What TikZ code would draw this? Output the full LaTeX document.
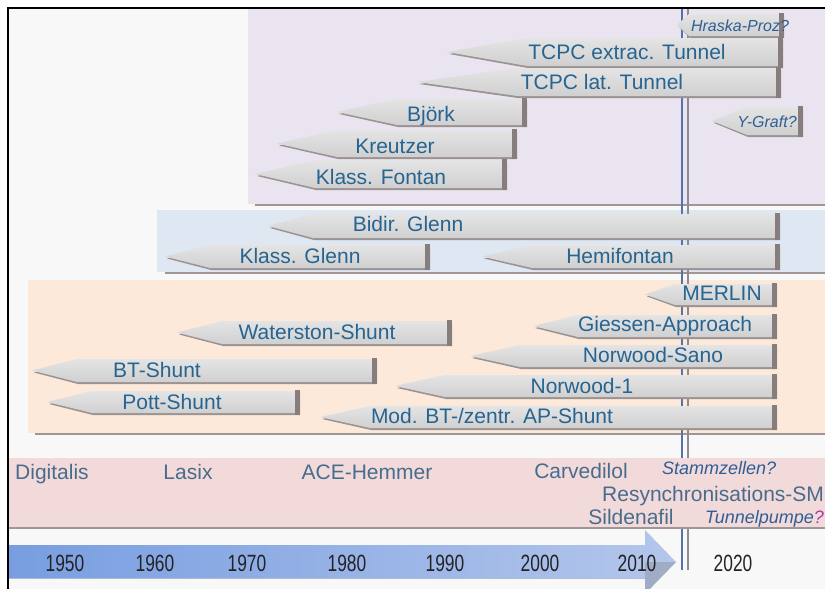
\documentclass[tikz,border=0pt]{standalone}
\usepackage{fontspec}
\setmainfont{Liberation Sans}
\newfontfamily\yearfont[FakeStretch=0.74]{Liberation Sans}
\usetikzlibrary{calc}
\definecolor{bgc}{RGB}{248,248,248}
\definecolor{purp}{RGB}{233,228,240}
\definecolor{bluep}{RGB}{222,231,242}
\definecolor{orap}{RGB}{253,233,218}
\definecolor{pinkp}{RGB}{242,218,218}
\definecolor{panline}{RGB}{160,150,150}
\definecolor{bartop}{RGB}{228,228,228}
\definecolor{barbot}{RGB}{208,208,208}
\definecolor{barshadow}{RGB}{155,146,146}
\definecolor{baredge}{RGB}{135,125,125}
\definecolor{bartxt}{RGB}{38,100,145}
\definecolor{drugtxt}{RGB}{72,108,140}
\definecolor{itxt}{RGB}{45,95,150}
\definecolor{yeartxt}{RGB}{35,35,35}
\definecolor{vlineA}{RGB}{85,115,170}
\definecolor{vlineB}{RGB}{140,140,150}
\definecolor{tlA}{RGB}{120,158,225}
\definecolor{tlB}{RGB}{180,198,235}
\definecolor{qmark}{RGB}{170,60,160}
\tikzset{
  bartext/.style={font=\fontsize{21}{24}\selectfont, text=bartxt, inner sep=0pt, text height=15pt, text depth=0pt},
  smalltext/.style={font=\fontsize{16}{19}\selectfont\itshape, text=itxt, inner sep=0pt, text height=12pt, text depth=0pt},
  drugtext/.style={font=\fontsize{21}{24}\selectfont, text=drugtxt, inner sep=0pt, text height=15pt, text depth=0pt},
  drugital/.style={font=\fontsize{18}{21}\selectfont\itshape, text=itxt, inner sep=0pt, text height=13pt, text depth=0pt},
  yeartext/.style={font=\fontsize{23.5}{26}\selectfont\yearfont, text=yeartxt, inner sep=0pt, text height=17pt, text depth=0pt},
  panelline/.style={draw=panline, line width=2pt},
}
% #1 name, #2 tip x, #3 taper, #4 right x, #5 top y, #6 bottom y, #7 text x, #8 text y, #9 text
\newcommand\tlbar[9]{%
  \fill[barshadow] ({#2+2},{(#5+#6)/2+2}) -- ({#2+#3+1},{#6+2}) -- (#4,{#6+2}) -- (#4,{#5+2}) -- ({#2+#3+1},{#5+2}) -- cycle;
  \shade[top color=bartop, bottom color=barbot] (#2,{(#5+#6)/2}) -- ({#2+#3},#5) -- ({#4-4},#5) -- ({#4-4},#6) -- ({#2+#3},#6) -- cycle;
  \fill[baredge] ({#4-5},{#5-1}) rectangle (#4,{#6+2});
  \node[bartext] (#1) at (#7,#8) {#9};
}
\begin{document}
\begin{tikzpicture}[x=1pt,y=-1pt]
\useasboundingbox (0,0) rectangle (825,589);
\clip (0,0) rectangle (825,589);
\fill[white] (0,0) rectangle (825,589);
\fill[bgc] (8,8) rectangle (825,589);
% panels
\fill[purp] (248,9) rectangle (825,204);
\draw[panelline] (255,205) -- (825,205);
\fill[bluep] (157,210) rectangle (825,272);
\draw[panelline] (165,273) -- (825,273);
\fill[orap] (28,280) rectangle (825,433);
\draw[panelline] (35,434) -- (825,434);
% reference line 2015
\draw[vlineA, line width=1.6pt] (682,9) -- (682,570);
\draw[vlineB, line width=1.6pt] (688,9) -- (688,570);
% purple bars
\tlbar{hraska}{677}{12}{784}{14}{36}{740}{25}{}
\node[smalltext] (hraskat) at (740,25) {Hraska-Proz?};
\tlbar{tcpcx}{447}{80}{783}{38}{66}{627}{52}{TCPC extrac. Tunnel}
\tlbar{tcpcl}{417}{100}{781}{68}{96}{602}{82}{TCPC lat. Tunnel}
\tlbar{ygraft}{712}{35}{803}{107}{135}{767}{121}{}
\node[smalltext] (ygraftt) at (767,121) {Y-Graft?};
\tlbar{bjork}{337}{60}{527}{99}{125}{431}{114}{Björk}
\tlbar{kreutzer}{277}{60}{517}{130}{157}{395}{146}{Kreutzer}
\tlbar{kfontan}{255}{60}{507}{160}{188}{381}{177}{Klass. Fontan}
% blue bars
\tlbar{bglenn}{268}{45}{780}{214}{238}{408}{224}{Bidir. Glenn}
\tlbar{kglenn}{165}{45}{430}{245}{268}{300}{256}{Klass. Glenn}
\tlbar{hemi}{482}{50}{780}{245}{268}{620}{256}{Hemifontan}
% orange bars
\tlbar{merlin}{645}{30}{777}{284}{305}{722}{293}{MERLIN}
\tlbar{giessen}{533}{45}{777}{315}{337}{665}{324}{Giessen-Approach}
\tlbar{nsano}{470}{50}{777}{345}{367}{653}{355}{Norwood-Sano}
\tlbar{nw1}{395}{50}{777}{375}{397}{582}{386}{Norwood-1}
\tlbar{modbt}{320}{50}{777}{406}{428}{492}{416}{Mod. BT-/zentr. AP-Shunt}
\tlbar{waterston}{177}{45}{452}{321}{344}{317}{332}{Waterston-Shunt}
\tlbar{btshunt}{32}{45}{377}{359}{382}{157}{370}{BT-Shunt}
\tlbar{pott}{47}{45}{300}{391}{413}{172}{402}{Pott-Shunt}
% drug panel
\fill[pinkp] (9,458) rectangle (825,527);
\draw[panelline] (9,528) -- (825,528);
\node[drugtext] (digitalis) at (52,472) {Digitalis};
\node[drugtext] (lasix) at (188,472) {Lasix};
\node[drugtext] (ace) at (367,472) {ACE-Hemmer};
\node[drugtext] (carvedilol) at (581,471) {Carvedilol};
\node[drugital, anchor=west] (stamm) at (662,468) {Stammzellen?};
\node[drugtext, anchor=west] (resync) at (602,494) {Resynchronisations-SM};
\node[drugtext] (sildenafil) at (631,517) {Sildenafil};
\node[drugital, anchor=west] (tunnelp) at (705,517) {Tunnelpumpe\textcolor{qmark}{?}};
% timeline arrow
\shade[left color=tlA, right color=tlB] (9,545) -- (645,545) -- (645,530) -- (676,562) -- (645,594) -- (645,578) -- (9,578) -- cycle;
\fill[gray, opacity=0.35] (645,562) -- (676,562) -- (645,594) -- cycle;
\draw[tlA!70!black, opacity=0.4, line width=1pt] (9,578) -- (645,578);
\node[yeartext] (y1950) at (65,563) {1950};
\node[yeartext] (y1960) at (155,563) {1960};
\node[yeartext] (y1970) at (247,563) {1970};
\node[yeartext] (y1980) at (347,563) {1980};
\node[yeartext] (y1990) at (445,563) {1990};
\node[yeartext] (y2000) at (540,563) {2000};
\node[yeartext] (y2010) at (637,563) {2010};
\node[yeartext] (y2020) at (733,563) {2020};
% frame
\draw[black, line width=2pt] (8,589) -- (8,8) -- (825,8);
\end{tikzpicture}
\end{document}
